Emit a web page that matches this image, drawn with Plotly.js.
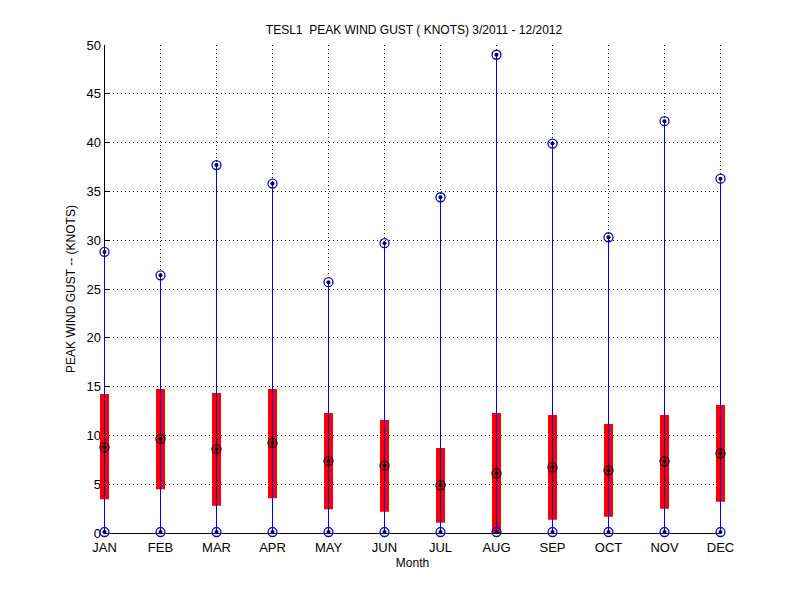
<!DOCTYPE html>
<html><head><meta charset="utf-8">
<script src="https://cdn.plot.ly/plotly-3.0.1.min.js"></script>
<style>body{margin:0;background:#fff}</style></head>
<body><div id="chart" style="width:800px;height:600px"></div>
<script>
const months = ['JAN','FEB','MAR','APR','MAY','JUN','JUL','AUG','SEP','OCT','NOV','DEC'];
const monthIndex = [1,2,3,4,5,6,7,8,9,10,11,12];
const minGust = [0.1,0.1,0.1,0.1,0.1,0.1,0.1,0.1,0.1,0.1,0.1,0.1];
const q1Gust = [3.45,4.48,2.8,3.55,2.43,2.18,1.06,0.0,1.37,1.67,2.49,3.21];
const medianGust = [8.78,9.63,8.6,9.22,7.38,6.9,4.89,6.12,6.73,6.42,7.35,8.16];
const q3Gust = [14.24,14.75,14.34,14.75,12.3,11.58,8.71,12.3,12.09,11.17,12.09,13.11];
const maxGust = [28.8,26.4,37.7,35.8,25.7,29.7,34.4,49.0,39.9,30.3,42.2,36.3];

// segments: [x, x, null] and [lo, hi, null]
function segX(xs){ const o=[]; xs.forEach(x=>{o.push(x,x,null);}); return o; }
function segY(lo, hi){ const o=[]; lo.forEach((v,i)=>{o.push(v,hi[i],null);}); return o; }

const blue = '#0000f0';
const font = 'Liberation Sans, Arial, sans-serif';

// geometry: whole-pixel month spacing, months centred on pixel columns,
// data axis padded 10.5 px each side so edge marks are not clipped
const unitPx = 56, pad = 10.5;
const plotW = unitPx * (monthIndex.length - 1) + 2 * pad;   // 637
const marginL = 94;
const padUnits = pad / unitPx;

const traces = [
  {type:'scatter', mode:'lines', xaxis:'x2', yaxis:'y2', x:segX(monthIndex), y:segY(q1Gust, q3Gust),
   line:{color:'#ff0000', width:9}, hoverinfo:'skip'},
  {type:'scatter', mode:'lines', xaxis:'x2', yaxis:'y2', x:segX(monthIndex), y:segY(minGust, maxGust),
   line:{color:blue, width:1}, hoverinfo:'skip'},
  {type:'scatter', mode:'markers', xaxis:'x2', yaxis:'y2', x:monthIndex.concat(monthIndex), y:minGust.concat(maxGust),
   marker:{symbol:'circle-open', size:9, color:blue, line:{width:1.3, color:blue}}, cliponaxis:false},
  {type:'scatter', mode:'markers', xaxis:'x2', yaxis:'y2', x:monthIndex, y:medianGust,
   marker:{symbol:'circle-open', size:9, color:'#1a0000', line:{width:1.3, color:'#1a0000'}}, cliponaxis:false},
  {type:'scatter', mode:'markers', xaxis:'x2', yaxis:'y2', x:monthIndex.concat(monthIndex, monthIndex), y:minGust.concat(maxGust, medianGust),
   marker:{symbol:'circle', size:4, color:'#000'}, cliponaxis:false},
  // invisible trace to establish the visible xy subplot
  {type:'scatter', mode:'markers', x:[1], y:[0], marker:{opacity:0}, hoverinfo:'skip'}
];

const gridStyle = {gridcolor:'#000', griddash:'1px,3px', gridwidth:1};
const axisCommon = Object.assign({
  showgrid:true,
  showline:true, linecolor:'#000', linewidth:1, mirror:false,
  ticks:'inside', ticklen:4, tickcolor:'#000', zeroline:false,
  layer:'below traces', tickfont:{family:font, size:13, color:'#000'}, automargin:false
}, gridStyle);

const layout = {
  width:800, height:600, paper_bgcolor:'#fff', plot_bgcolor:'rgba(0,0,0,0)',
  margin:{l:marginL, r:800 - marginL - plotW, t:45, b:67},
  showlegend:false,
  font:{family:font, color:'#000'},
  title:{text:'TESL1\u00a0 PEAK WIND GUST ( KNOTS) 3/2011 - 12/2012', x:0.5175, xanchor:'center', y:0.95, yanchor:'middle',
         font:{family:font, size:12, color:'#000'}},
  xaxis: Object.assign({}, axisCommon, {domain:[pad/plotW, 1 - pad/plotW], range:[1,12], tickvals:monthIndex, ticktext:months,
         showgrid:false, ticklabelstandoff:2,
         title:{text:'Month', font:{family:font, size:12, color:'#000'}, standoff:5}}),
  yaxis: Object.assign({}, axisCommon, {range:[0,50], dtick:5, tick0:0,
         title:{text:'PEAK WIND GUST -- (KNOTS)', font:{family:font, size:12, color:'#000'}, standoff:8}}),
  // data axis (slightly wider so edge marks are not clipped); carries the vertical month grid lines
  xaxis2: Object.assign({domain:[0,1], range:[1 - padUnits, 12 + padUnits], anchor:'y2',
         showgrid:true, tickvals:monthIndex, showticklabels:false, ticks:'', showline:false, zeroline:false}, gridStyle),
  yaxis2: {domain:[0,1], range:[0,50], visible:false, showgrid:false, zeroline:false, anchor:'x2'}
};

Plotly.newPlot('chart', traces, layout, {staticPlot:true});
</script></body></html>
